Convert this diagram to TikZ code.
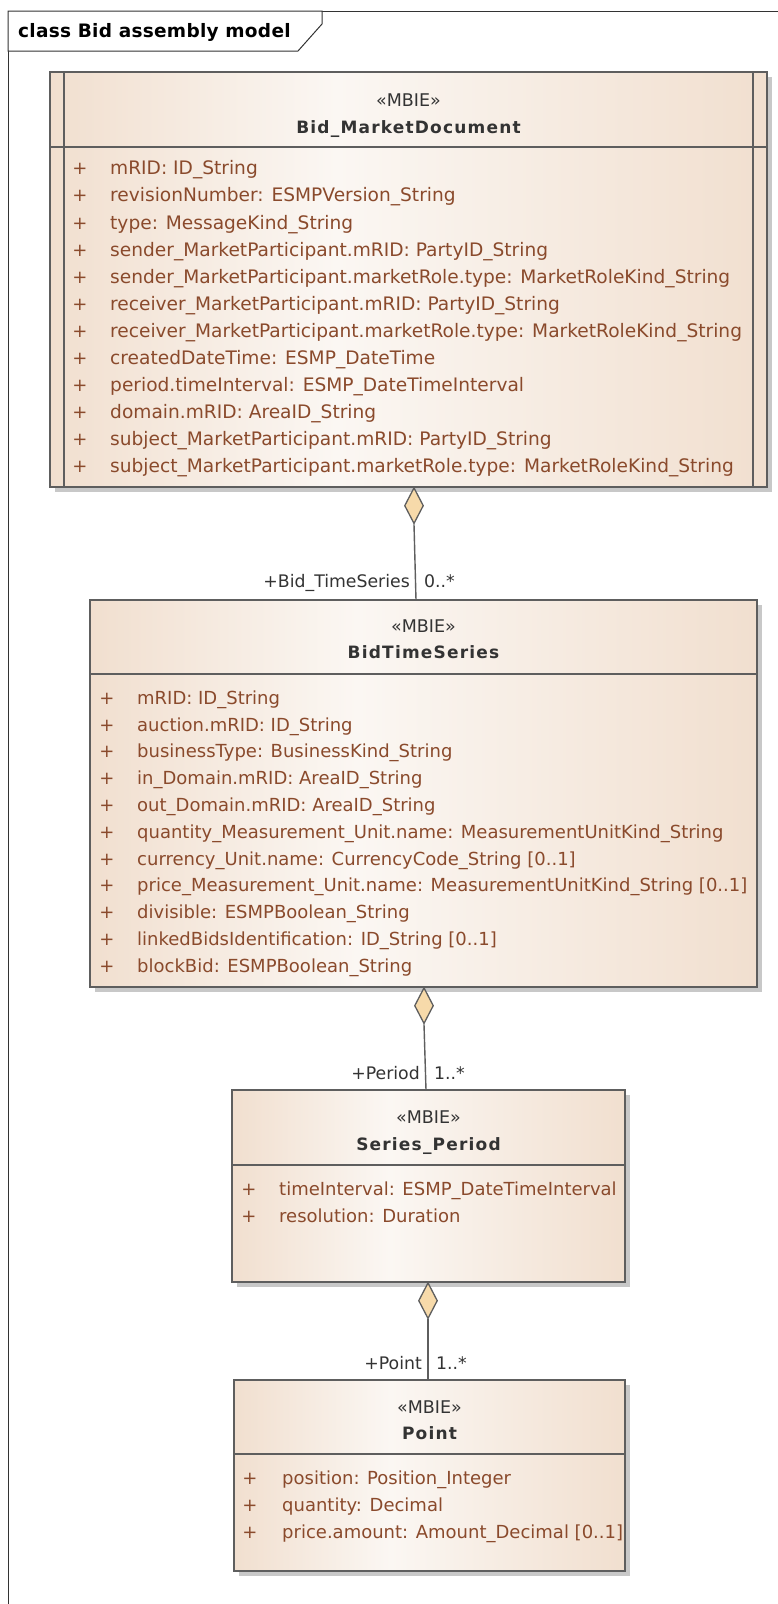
\documentclass[tikz,border=0pt]{standalone}
\usepackage{fontspec}
\setmainfont{DejaVu Sans}
\usetikzlibrary{shapes.geometric}
\definecolor{tanc}{HTML}{F1DFCF}
\definecolor{lightc}{HTML}{FBF7F3}
\definecolor{attrc}{HTML}{8A4A2C}
\definecolor{edgec}{HTML}{5E5E5E}
\definecolor{shadowc}{HTML}{C8C8C8}
\definecolor{diamc}{HTML}{F7DAAA}
\definecolor{textc}{HTML}{333333}
\pgfdeclarehorizontalshading{umlfill}{100bp}{color(0bp)=(tanc); color(25bp)=(tanc); color(45bp)=(lightc); color(75bp)=(tanc); color(100bp)=(tanc)}
\newcommand{\attrfont}{\fontsize{18}{20}\selectfont}
\newcommand{\attrfontb}{\fontsize{18.6}{20}\selectfont}
\newcommand{\rolefont}{\fontsize{17.3}{19}\selectfont}
\newcommand{\stfont}{\fontsize{17.5}{19}\selectfont}
\newcommand{\clsfont}{\fontsize{17}{19}\selectfont\bfseries\addfontfeatures{LetterSpace=7}}
\newcommand{\titlefont}{\fontsize{18.5}{20}\selectfont\bfseries\addfontfeatures{LetterSpace=1.5}}
\tikzset{
  txt/.style={inner sep=0pt, yshift=-4.5pt},
  attr/.style={txt, anchor=mid west, text=attrc, font=\attrfont},
  attrb/.style={txt, anchor=mid west, text=attrc, font=\attrfontb},
  vis/.style={txt, anchor=mid, text=attrc, font=\attrfont},
  stereo/.style={txt, anchor=mid, text=textc, font=\stfont},
  cname/.style={txt, anchor=mid, text=textc, font=\clsfont},
  role/.style={txt, text=textc, font=\rolefont},
  boxline/.style={draw=edgec, line width=1.4pt},
  conn/.style={draw=edgec, line width=1.4pt},
  agg/.style={diamond, draw=edgec, fill=diamc, line width=1.3pt, inner sep=0pt, minimum width=19pt, minimum height=36pt, anchor=north}
}
\newcommand{\umlbox}[5]{% left top right bottom headersep
  \fill[shadowc] (#1+5,#2+5) rectangle (#3+5,#4+5);
  \shade[shading=umlfill] (#1,#2) rectangle (#3,#4);
  \draw[boxline] (#1,#2) rectangle (#3,#4);
  \draw[boxline] (#1,#5) -- (#3,#5);
}
\begin{document}
\begin{tikzpicture}[x=1pt,y=-1pt]
\useasboundingbox (0,0) rectangle (778,1604);
\fill[white] (0,0) rectangle (778,1604);
% frame
\draw[line width=1pt, draw=black!80] (8,1610) -- (8,11) -- (782,11);
\draw[line width=1pt, draw=black!80, fill=white] (8,11) -- (322,11) -- (322,24) -- (298,51) -- (8,51) -- cycle;
\node[txt, anchor=mid west, font=\titlefont] (title) at (18,30) {class Bid assembly model};

% ---- Class 1
\umlbox{50}{72}{767}{487}{147}
\draw[boxline] (64,72) -- (64,487);
\draw[boxline] (753,72) -- (753,487);
\node[stereo] (c1st) at (408.5,99) {«MBIE»};
\node[cname] (c1n) at (408.5,126) {Bid\_MarketDocument};
\foreach \t [count=\i from 0] in {mRID: ID\_String, revisionNumber: ESMPVersion\_String, type: MessageKind\_String, sender\_MarketParticipant.mRID: PartyID\_String, sender\_MarketParticipant.marketRole.type: MarketRoleKind\_String, receiver\_MarketParticipant.mRID: PartyID\_String, receiver\_MarketParticipant.marketRole.type: MarketRoleKind\_String, createdDateTime: ESMP\_DateTime, period.timeInterval: ESMP\_DateTimeInterval, domain.mRID: AreaID\_String, subject\_MarketParticipant.mRID: PartyID\_String, subject\_MarketParticipant.marketRole.type: MarketRoleKind\_String}{
  \node[vis] (c1p\i) at (80,167.7+27.03*\i) {+};
  \node[attrb] (c1a\i) at (110,167.7+27.03*\i) {\t};
}
\coordinate (c1bot) at (414,487);

% ---- Class 2
\umlbox{90}{600}{757}{987}{674}
\node[stereo] (c2st) at (423.5,625) {«MBIE»};
\node[cname] (c2n) at (423.5,651) {BidTimeSeries};
\foreach \t [count=\i from 0] in {mRID: ID\_String, auction.mRID: ID\_String, businessType: BusinessKind\_String, in\_Domain.mRID: AreaID\_String, out\_Domain.mRID: AreaID\_String, quantity\_Measurement\_Unit.name: MeasurementUnitKind\_String, currency\_Unit.name: CurrencyCode\_String [0..1], price\_Measurement\_Unit.name: MeasurementUnitKind\_String [0..1], divisible: ESMPBoolean\_String, linkedBidsIdentification: ID\_String [0..1], blockBid: ESMPBoolean\_String}{
  \node[vis] (c2p\i) at (107,697+26.8*\i) {+};
  \node[attr] (c2a\i) at (137,697+26.8*\i) {\t};
}
\coordinate (c2top) at (416,600);
\coordinate (c2bot) at (424,987);

% ---- Class 3
\umlbox{232}{1090}{625}{1282}{1165}
\node[stereo] (c3st) at (428.5,1116) {«MBIE»};
\node[cname] (c3n) at (428.5,1143) {Series\_Period};
\node[vis] (c3p0) at (249,1188) {+};
\node[attr] (c3a0) at (279,1188) {timeInterval: ESMP\_DateTimeInterval};
\node[vis] (c3p1) at (249,1215) {+};
\node[attr] (c3a1) at (279,1215) {resolution: Duration};
\coordinate (c3top) at (426,1090);
\coordinate (c3bot) at (428,1282);

% ---- Class 4
\umlbox{234}{1380}{625}{1571}{1454}
\node[stereo] (c4st) at (429.5,1406) {«MBIE»};
\node[cname] (c4n) at (429.5,1432) {Point};
\node[vis] (c4p0) at (250,1477) {+};
\node[attr] (c4a0) at (282,1477) {position: Position\_Integer};
\node[vis] (c4p1) at (250,1504) {+};
\node[attr] (c4a1) at (282,1504) {quantity: Decimal};
\node[vis] (c4p2) at (250,1531) {+};
\node[attr] (c4a2) at (282,1531) {price.amount: Amount\_Decimal [0..1]};
\coordinate (c4top) at (428,1380);

% ---- connectors
\node[agg] (d1) at (c1bot) {};
\draw[conn] (d1.south) -- (c2top);
\node[role, anchor=mid east] (r1) at (410,580) {+Bid\_TimeSeries};
\node[role, anchor=mid west] (m1) at (424,580) {0..*};

\node[agg] (d2) at (c2bot) {};
\draw[conn] (d2.south) -- (c3top);
\node[role, anchor=mid east] (r2) at (420,1072) {+Period};
\node[role, anchor=mid west] (m2) at (434,1072) {1..*};

\node[agg] (d3) at (c3bot) {};
\draw[conn] (d3.south) -- (c4top);
\node[role, anchor=mid east] (r3) at (422,1362) {+Point};
\node[role, anchor=mid west] (m3) at (436,1362) {1..*};
\end{tikzpicture}
\end{document}
